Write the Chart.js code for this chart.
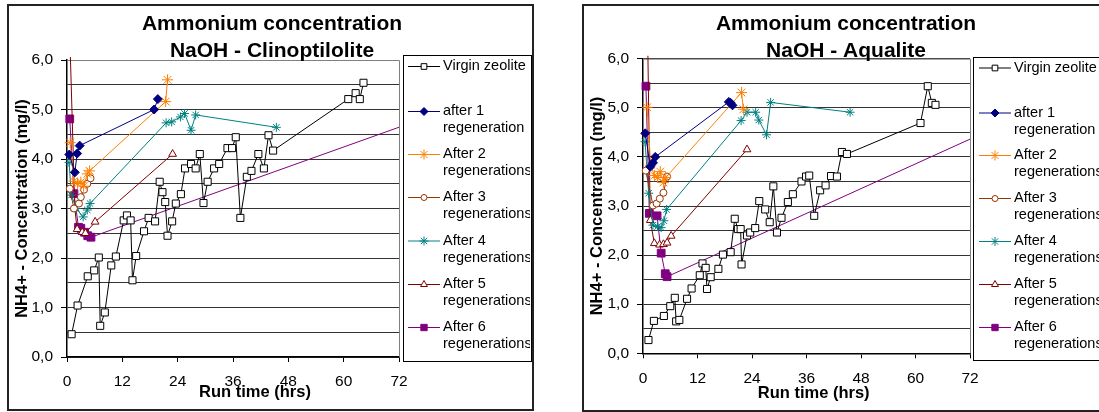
<!DOCTYPE html>
<html><head><meta charset="utf-8">
<script src="https://cdn.jsdelivr.net/npm/chart.js@4.4.1/dist/chart.umd.min.js"></script>
<style>
html,body{margin:0;padding:0;background:#fff;}
#wrap{position:relative;width:1099px;height:412px;overflow:hidden;background:#fff;}
.frame{position:absolute;border:2px solid #222;box-sizing:border-box;}
canvas{position:absolute;top:0;}
</style></head><body>
<div id="wrap">
 <div class="frame" style="left:7px;top:4px;width:527px;height:407px"></div>
 <div class="frame" style="left:582px;top:4px;width:600px;height:408px"></div>
 <canvas id="cv1" width="545" height="412" style="left:0px"></canvas>
 <canvas id="cv2" width="544" height="412" style="left:555px"></canvas>
</div>
<script>
// ---------- data ----------
const xTickLabels = ['0','12','24','36','48','60','72'];
const yTickLabels = ['0,0','1,0','2,0','3,0','4,0','5,0','6,0'];
const seriesNames = [
  ['Virgin zeolite'], ['after 1','regeneration'], ['After 2','regenerations'],
  ['After 3','regenerations'], ['After 4','regenerations'], ['After 5','regenerations'],
  ['After 6','regenerations']
];

// Clinoptilolite (left)
const clinoVirginT = [1.0,2.3,4.5,5.9,6.9,7.2,8.2,9.6,10.6,12.3,13.0,13.8,14.2,15.0,16.7,17.7,19.1,20.1,20.7,21.3,21.8,22.8,23.6,24.7,25.6,26.9,27.9,28.8,29.6,30.5,31.9,33.0,34.8,35.8,36.6,37.6,39.0,40.0,41.5,42.7,43.7,44.7,61.0,62.6,63.5,64.3];
const clinoVirginC = [0.46,1.04,1.63,1.75,2.01,0.63,0.90,1.85,2.03,2.76,2.86,2.76,1.55,2.04,2.54,2.81,2.74,3.54,3.33,3.13,2.45,2.74,3.10,3.29,3.81,3.90,3.81,4.10,3.11,3.54,3.81,3.90,4.22,4.22,4.44,2.81,3.64,3.76,4.10,3.81,4.48,4.17,5.21,5.33,5.21,5.54];
const clinoReg1T = [0.5,1.7,2.2,2.75,18.9,19.7];
const clinoReg1C = [4.09,3.73,4.11,4.27,5.00,5.21];
const clinoReg2T = [0.7,1.5,2.3,3.0,3.6,4.4,4.9,21.4,21.8];
const clinoReg2C = [4.33,3.55,3.50,3.53,3.45,3.70,3.76,5.16,5.60];
const clinoReg3T = [0.6,1.5,2.6,3.0,3.7,4.4,5.1];
const clinoReg3C = [3.40,3.00,3.10,3.23,3.38,3.50,3.61];
const clinoReg4T = [0.45,0.95,2.0,3.5,4.4,5.0,21.5,22.7,24.6,25.5,26.9,27.9,45.4];
const clinoReg4C = [3.93,3.27,3.00,2.83,2.97,3.10,4.73,4.75,4.85,4.92,4.58,4.89,4.64];
const clinoReg5T = [0.6,1.7,2.2,3.3,4.0,6.1,22.9];
const clinoReg5C = [6.5,3.00,2.58,2.52,2.50,2.73,4.10];
const clinoReg6T = [0.6,1.5,2.5,3.0,3.8,4.5,5.2,96];
const clinoReg6C = [4.81,3.30,2.62,2.60,2.52,2.45,2.42,5.44];

// Aqualite (right)
const aquaVirginT = [1.2,2.4,4.6,6.0,7.0,7.3,8.0,9.7,10.7,12.5,13.1,13.8,14.1,14.9,16.6,17.6,19.3,20.2,20.9,21.5,21.7,22.9,23.6,24.7,25.6,26.9,27.9,28.7,29.5,30.5,31.9,33.0,34.9,35.9,36.6,37.7,39.0,40.2,41.4,42.7,43.8,44.9,61.1,62.7,63.6,64.4];
const aquaVirginC = [0.27,0.66,0.76,0.96,1.13,0.65,0.68,1.11,1.32,1.59,1.83,1.74,1.31,1.55,1.72,2.01,2.06,2.74,2.53,2.53,1.81,2.40,2.46,2.55,3.10,2.93,2.67,3.40,2.46,2.76,3.08,3.24,3.50,3.60,3.62,2.80,3.32,3.42,3.61,3.60,4.10,4.06,4.69,5.44,5.10,5.06];
const aquaReg1T = [0.5,1.6,2.2,2.7,18.9,19.3,19.7];
const aquaReg1C = [4.48,3.80,3.88,4.00,5.12,5.10,5.05];
const aquaReg2T = [0.9,1.7,2.5,3.2,3.8,4.5,5.0,21.7,22.1];
const aquaReg2C = [5.01,3.83,3.62,3.58,3.70,3.48,3.58,5.31,4.97];
const aquaReg3T = [0.6,2.2,3.0,3.7,4.5,5.3];
const aquaReg3C = [3.72,3.01,3.05,3.15,3.27,3.60];
const aquaReg4T = [0.45,1.25,2.2,3.2,4.0,4.6,5.2,21.6,22.9,24.8,25.5,27.2,28.1,45.6];
const aquaReg4C = [4.31,3.26,2.61,2.58,2.56,2.70,2.93,4.74,4.91,4.91,4.75,4.45,5.11,4.91];
const aquaReg5T = [1.0,1.6,2.5,3.65,4.5,5.3,6.2,22.9];
const aquaReg5C = [6.6,2.71,2.24,2.21,2.22,2.25,2.39,4.15];
const aquaReg6T = [0.65,1.4,3.1,4.0,4.9,5.3,96];
const aquaReg6C = [5.44,2.85,2.80,2.04,1.62,1.56,5.37];

// ---------- styles ----------
const FONT = "'Liberation Sans', Arial, Helvetica, sans-serif";
const styles = [
  {color:'#000000', fill:'#ffffff', shape:'rect',     r:5,   lr:4},
  {color:'#000080', fill:'#000080', shape:'rectRot',  r:4.5, lr:4},
  {color:'#FF7F00', fill:'#FF7F00', shape:'star',     r:5.5, lr:5},
  {color:'#993300', fill:'#ffffff', shape:'circle',   r:3.5, lr:3},
  {color:'#008080', fill:'#008080', shape:'star',     r:4.5, lr:4.5},
  {color:'#800000', fill:'#ffffff', shape:'triangle', r:4.5, lr:4},
  {color:'#800080', fill:'#800080', shape:'rect',     r:5.5, lr:4.5}
];
const clips = [false,false,false,false,false,
  {left:10, top:3, right:10, bottom:10},
  {left:10, top:10, right:0, bottom:10}];

function pts(t, c){ return t.map((x,i)=>({x:x, y:c[i]})); }

function drawMarker(ctx, st, x, y, r){
  ctx.save();
  ctx.fillStyle = st.fill; ctx.strokeStyle = st.color; ctx.lineWidth = 1;
  if (Chart.helpers && Chart.helpers.drawPoint) {
    Chart.helpers.drawPoint(ctx, {pointStyle: st.shape, radius: r, borderWidth: 1, rotation: 0}, x, y);
  } else {
    ctx.beginPath(); ctx.rect(x-r*0.7, y-r*0.7, r*1.4, r*1.4); ctx.fill(); ctx.stroke();
  }
  ctx.restore();
}

const decorPlugin = {
  id: 'decor',
  beforeDatasetsDraw(chart){
    const a = chart.chartArea, ctx = chart.ctx;
    ctx.save();
    ctx.strokeStyle = '#808080'; ctx.lineWidth = 1;
    ctx.beginPath();
    ctx.moveTo(a.left, a.top + 0.5); ctx.lineTo(a.right + 0.5, a.top + 0.5);
    ctx.lineTo(a.right + 0.5, a.bottom);
    ctx.stroke();
    ctx.restore();
  },
  afterDraw(chart){
    const L = chart.options.plugins.decor, ctx = chart.ctx;
    ctx.save();
    // chart title
    ctx.fillStyle = '#000';
    ctx.textAlign = 'center'; ctx.textBaseline = 'middle';
    ctx.font = 'bold 21px ' + FONT;
    L.title.forEach((t,i)=> ctx.fillText(t, L.titleX, L.titleY[i]));
    // x axis title
    ctx.font = 'bold 16.5px ' + FONT;
    ctx.fillText('Run time (hrs)', L.xTitleX, L.xTitleY);
    // legend
    const b = L.legend;
    ctx.fillStyle = '#fff';
    ctx.fillRect(b.x, b.y, b.w, b.h);
    ctx.strokeStyle = '#000'; ctx.lineWidth = 1;
    ctx.strokeRect(b.x + 0.5, b.y + 0.5, b.w, b.h);
    ctx.beginPath(); ctx.rect(b.x + 1, b.y + 1, b.w - 2, b.h - 2); ctx.clip();
    ctx.font = '14.5px ' + FONT; ctx.textAlign = 'left'; ctx.textBaseline = 'middle';
    seriesNames.forEach((name, i)=>{
      const y = b.rows[i], st = styles[i];
      ctx.strokeStyle = st.color; ctx.lineWidth = 1;
      ctx.beginPath(); ctx.moveTo(b.lx1, y + 0.5); ctx.lineTo(b.lx2, y + 0.5); ctx.stroke();
      drawMarker(ctx, st, (b.lx1 + b.lx2)/2, y + 0.5, st.lr);
      ctx.fillStyle = '#000';
      name.forEach((line, k)=> ctx.fillText(line, b.tx, y + k*17));
    });
    ctx.restore();
  }
};

function build(id, lay, data){
  const datasets = data.map((s, i)=>({
    label: seriesNames[i].join(' '),
    data: pts(s[0], s[1]),
    showLine: true,
    borderColor: styles[i].color,
    backgroundColor: styles[i].fill,
    borderWidth: 1,
    pointStyle: styles[i].shape,
    pointRadius: styles[i].r,
    pointHoverRadius: styles[i].r,
    pointBorderWidth: 1,
    pointBorderColor: styles[i].color,
    pointBackgroundColor: styles[i].fill,
    tension: 0,
    fill: false,
    clip: clips[i]
  }));
  return new Chart(document.getElementById(id), {
    type: 'scatter',
    data: {datasets: datasets},
    options: {
      responsive: false, animation: false, events: [],
      layout: {padding: {left: 0, top: lay.top, right: lay.padRight, bottom: 0}},
      plugins: {legend: {display: false}, tooltip: {enabled: false}, title: {display: false}, decor: lay.decor},
      scales: {
        x: {
          type: 'linear', min: 0, max: 72,
          afterFit: (s)=>{ s.height = lay.xH; },
          ticks: {stepSize: 12, autoSkip: false, maxRotation: 0, color: '#000', padding: lay.xPad,
                  font: {family: FONT, size: 15.5},
                  callback: (v)=> xTickLabels[Math.round(v/12)]},
          grid: {drawOnChartArea: false, drawTicks: true, tickLength: 5, tickColor: '#000', tickWidth: 1},
          border: {display: true, color: '#000', width: 1.5}
        },
        y: {
          type: 'linear', min: 0, max: 6,
          afterFit: (s)=>{ s.width = lay.yW; },
          ticks: {stepSize: 0.5, autoSkip: false, color: '#000', padding: 8,
                  font: {family: FONT, size: 15.5},
                  callback: (v)=> Number.isInteger(v) ? yTickLabels[v] : ''},
          grid: {color: '#333', lineWidth: 1, drawTicks: true, tickLength: 6,
                 tickColor: (c)=> (c.tick && Number.isInteger(c.tick.value)) ? '#000' : 'rgba(0,0,0,0)'},
          border: {display: true, color: '#000', width: 1.5},
          title: {display: true, text: 'NH4+ - Concentration (mg/l)', color: '#000',
                  font: {family: FONT, size: 16.5, weight: 'bold'}, padding: {top: lay.yTitlePad, bottom: 0}}
        }
      }
    },
    plugins: [decorPlugin]
  });
}

build('cv1', {
  top: 60, padRight: 146, xH: 55, yW: 67, xPad: 10, yTitlePad: 13,
  decor: {
    title: ['Ammonium concentration', 'NaOH - Clinoptilolite'], titleX: 272, titleY: [24, 51],
    xTitleX: 255, xTitleY: 392,
    legend: {x: 403, y: 55, w: 128, h: 306, lx1: 408, lx2: 440, tx: 443,
             rows: [66, 111, 154, 197, 240.5, 284, 327]}
  }
}, [
  [clinoVirginT, clinoVirginC], [clinoReg1T, clinoReg1C], [clinoReg2T, clinoReg2C],
  [clinoReg3T, clinoReg3C], [clinoReg4T, clinoReg4C], [clinoReg5T, clinoReg5C], [clinoReg6T, clinoReg6C]
]);

build('cv2', {
  top: 58.7, padRight: 129, xH: 58.7, yW: 88, xPad: 11, yTitlePad: 33,
  decor: {
    title: ['Ammonium concentration', 'NaOH - Aqualite'], titleX: 291, titleY: [24, 51],
    xTitleX: 258.7, xTitleY: 393,
    legend: {x: 418, y: 57, w: 200, h: 303, lx1: 424, lx2: 456, tx: 459,
             rows: [67.5, 112.5, 155, 198, 241, 284, 327]}
  }
}, [
  [aquaVirginT, aquaVirginC], [aquaReg1T, aquaReg1C], [aquaReg2T, aquaReg2C],
  [aquaReg3T, aquaReg3C], [aquaReg4T, aquaReg4C], [aquaReg5T, aquaReg5C], [aquaReg6T, aquaReg6C]
]);
</script>
</body></html>
